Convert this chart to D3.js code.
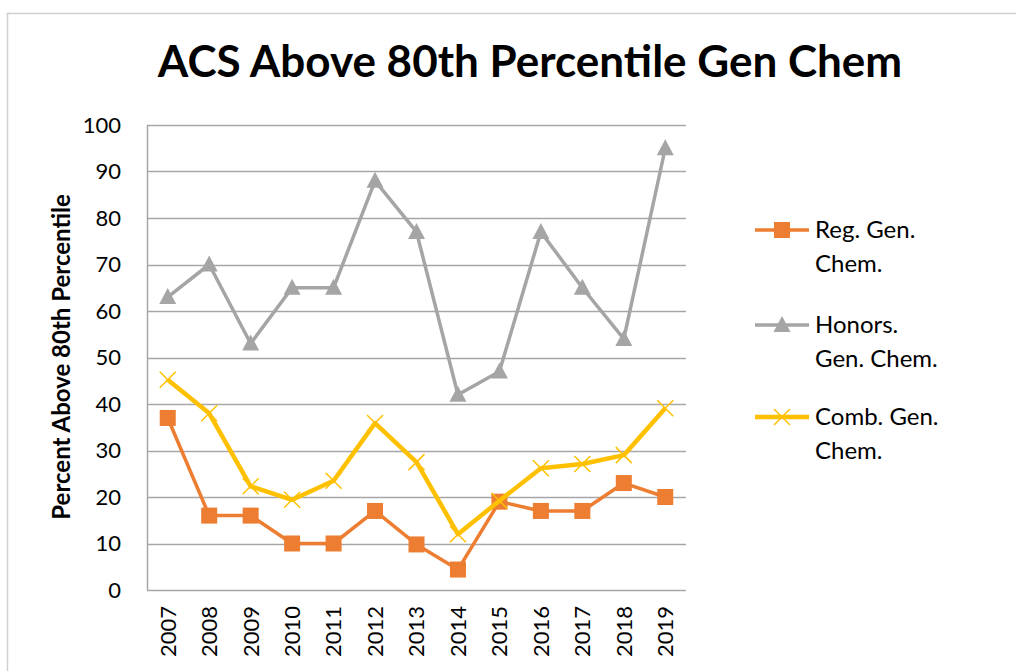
<!DOCTYPE html>
<html>
<head>
<meta charset="utf-8">
<script src="https://cdn.jsdelivr.net/npm/d3@7"></script>
<style>
  body { margin: 0; background: #fff; }
  text { font-family: Lato, "Open Sans", sans-serif; }
</style>
</head>
<body>
<div id="chart"></div>
<script>
// values
const years = ["2007","2008","2009","2010","2011","2012","2013","2014","2015","2016","2017","2018","2019"];
const regGen = [37, 16, 16, 10, 10, 17, 9.8, 4.4, 19, 17, 17, 23, 20];
const honorsGen = [63, 70, 53, 65, 65, 88, 77, 42, 47, 77, 65, 54, 95];
const combGen = [45.2, 38, 22.3, 19.4, 23.5, 35.9, 27.5, 12, 19.2, 26.2, 27.1, 29, 39.1];
const yTicks = [0, 10, 20, 30, 40, 50, 60, 70, 80, 90, 100];
const seriesNames = [["Reg. Gen.", "Chem."], ["Honors.", "Gen. Chem."], ["Comb. Gen.", "Chem."]];

const W = 1018, H = 671;
const margin = {top: 125, left: 147},
    width = 686 - 147,
    height = 590 - 125;

let svg = d3.select("#chart")
    .append("svg")
    .attr("width", W)
    .attr("height", H);

// outer frame
svg.append("path")
    .attr("d", `M7.5,${H} V13.5 H1016`)
    .attr("fill", "none")
    .attr("stroke", "#d0d0d0")
    .attr("stroke-width", 1.5);

svg.append("text")
    .attr("x", 530)
    .attr("y", 77)
    .attr("text-anchor", "middle")
    .style("font-size", "44px")
    .style("font-weight", "bold")
    .text("ACS Above 80th Percentile Gen Chem");

let g = svg.append("g")
    .attr("transform", `translate(${margin.left}, ${margin.top})`);

let x = d3.scaleBand()
    .domain(years)
    .range([0, width]);

let y = d3.scaleLinear()
    .domain([0, 100])
    .range([height, 0]);

// gridlines
g.append("g")
    .selectAll("line")
    .data(yTicks)
    .enter()
    .append("line")
    .attr("x1", 0)
    .attr("x2", width)
    .attr("y1", d => Math.round(y(d)) + 0.5)
    .attr("y2", d => Math.round(y(d)) + 0.5)
    .attr("stroke", "#a6a6a6")
    .attr("stroke-width", 1.5);

// left axis line
g.append("line")
    .attr("x1", 0.5).attr("x2", 0.5)
    .attr("y1", 0).attr("y2", height)
    .attr("stroke", "#a6a6a6")
    .attr("stroke-width", 1.5);

// y tick labels
g.append("g")
    .call(d3.axisLeft(y).tickValues(yTicks).tickSize(0).tickPadding(26))
    .call(a => a.select(".domain").remove())
    .selectAll("text")
    .style("font-size", "22px")
    .style("font-family", "Lato, sans-serif")
    .attr("fill", "#000");

// x tick labels, rotated
g.append("g")
    .attr("transform", `translate(0, ${height})`)
    .call(d3.axisBottom(x).tickSize(0))
    .call(a => a.select(".domain").remove())
    .selectAll("text")
    .style("font-size", "22px")
    .style("font-family", "Lato, sans-serif")
    .attr("fill", "#000")
    .attr("transform", "rotate(-90)")
    .attr("text-anchor", "end")
    .attr("x", -16)
    .attr("y", 0)
    .attr("dy", "0.36em");

// y axis title
svg.append("text")
    .attr("transform", "translate(70, 357) rotate(-90)")
    .attr("text-anchor", "middle")
    .style("font-size", "24px")
    .style("font-weight", "bold")
    .text("Percent Above 80th Percentile");

const series = [
    {values: regGen, color: "#ED7D31", width: 3.5, marker: "square"},
    {values: honorsGen, color: "#A5A5A5", width: 3.5, marker: "triangle"},
    {values: combGen, color: "#FFC000", width: 4.5, marker: "cross"}
];

let cx = (d, i) => x(years[i]) + x.bandwidth() / 2;

function drawMarker(sel, type, color) {
    if (type === "square") {
        sel.append("rect")
            .attr("x", -8).attr("y", -8)
            .attr("width", 16).attr("height", 16)
            .attr("fill", color);
    } else if (type === "triangle") {
        sel.append("path")
            .attr("d", "M0,-9 L8.5,7 L-8.5,7 Z")
            .attr("fill", color);
    } else {
        sel.append("path")
            .attr("d", "M-8,-8 L8,8 M-8,8 L8,-8")
            .attr("stroke", color)
            .attr("stroke-width", 1.5)
            .attr("fill", "none");
    }
}

series.forEach(s => {
    g.append("path")
        .datum(s.values)
        .attr("fill", "none")
        .attr("stroke", s.color)
        .attr("stroke-width", s.width)
        .attr("stroke-linejoin", "round")
        .attr("d", d3.line()
            .x(cx)
            .y(d => y(d)));

    g.append("g")
        .selectAll("g")
        .data(s.values)
        .enter()
        .append("g")
        .attr("transform", (d, i) => `translate(${cx(d, i)}, ${y(d)})`)
        .each(function() { drawMarker(d3.select(this), s.marker, s.color); });
});

// legend
const legendY = [230, 325, 417];
series.forEach((s, i) => {
    let lg = svg.append("g")
        .attr("transform", `translate(755, ${legendY[i]})`);
    lg.append("line")
        .attr("x1", 0).attr("x2", 54)
        .attr("stroke", s.color)
        .attr("stroke-width", s.width);
    let m = lg.append("g").attr("transform", "translate(27, 0)");
    drawMarker(m, s.marker, s.color);
    let t = lg.append("text")
        .attr("x", 60)
        .attr("y", 0)
        .style("font-size", "24px");
    seriesNames[i].forEach((line, k) => {
        t.append("tspan")
            .attr("x", 60)
            .attr("dy", k === 0 ? "0.35em" : "1.38em")
            .text(line);
    });
});
</script>
</body>
</html>
